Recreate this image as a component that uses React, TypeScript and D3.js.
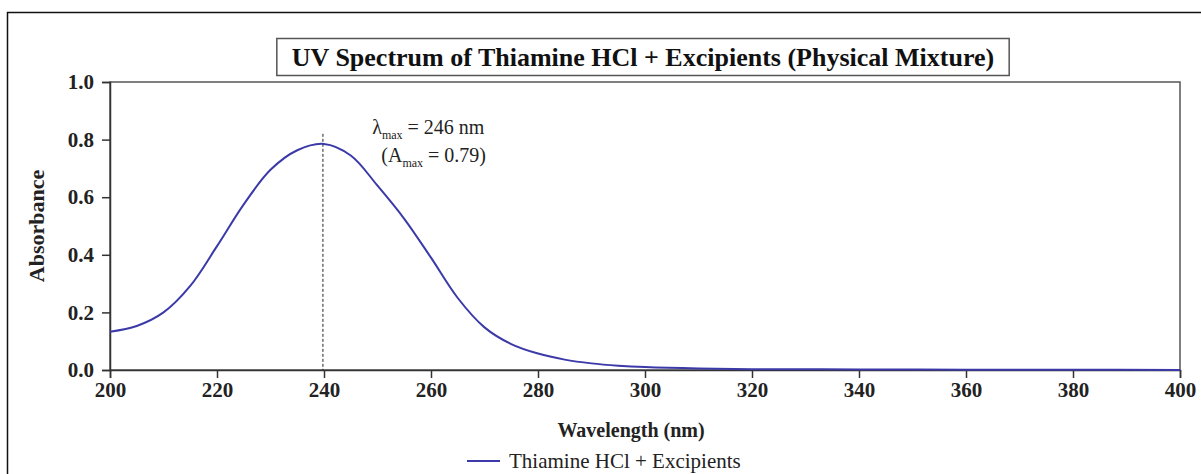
import React, { useEffect, useRef } from 'react';
import * as d3 from 'd3';

// UV spectrum readings (nm / absorbance)
const wavelengths = [200, 205, 210, 215, 220, 225, 230, 235, 240, 245, 250, 255, 260, 265, 270, 275, 280, 285, 290, 295, 300, 310, 320, 340, 360, 380, 400];
const absorbance = [0.133, 0.153, 0.2, 0.292, 0.43, 0.575, 0.695, 0.763, 0.785, 0.745, 0.64, 0.525, 0.39, 0.25, 0.148, 0.09, 0.057, 0.036, 0.023, 0.015, 0.01, 0.005, 0.003, 0.002, 0.001, 0.001, 0.0];
const xTicks = [200, 220, 240, 260, 280, 300, 320, 340, 360, 380, 400];
const yTicks = [0, 0.2, 0.4, 0.6, 0.8, 1.0];
const peakWavelength = 239.8;
const peakAbsorbance = 0.82;

const titleText = 'UV Spectrum of Thiamine HCl + Excipients (Physical Mixture)';
const seriesName = 'Thiamine HCl + Excipients';

const App = () => {
  const svgRef = useRef<SVGSVGElement>(null);

  useEffect(() => {
    const W = 1201;
    const H = 474;
    const margin = { top: 82, right: 21, bottom: 104, left: 110 };
    const width = W - margin.left - margin.right;
    const height = H - margin.top - margin.bottom;
    const font = '"Liberation Serif", "Times New Roman", serif';
    const lineColor = '#3b3aa8';

    const root = d3.select(svgRef.current);
    root.selectAll('*').remove();
    root.attr('width', W).attr('height', H).style('font-family', font);

    root.append('rect').attr('width', W).attr('height', H).attr('fill', 'white');

    // outer frame (runs off the right and bottom edge)
    root.append('rect')
      .attr('x', 7.5).attr('y', 12.5)
      .attr('width', W + 20).attr('height', H + 20)
      .attr('fill', 'none').attr('stroke', '#111').attr('stroke-width', 1.5);

    const svg = root.append('g').attr('transform', `translate(${margin.left},${margin.top})`);

    const x = d3.scaleLinear().domain([200, 400]).range([0, width]);
    const y = d3.scaleLinear().domain([0, 1]).range([height, 0]);

    // plot box
    svg.append('rect')
      .attr('width', width).attr('height', height)
      .attr('fill', 'none').attr('stroke', '#555').attr('stroke-width', 1.5);

    const xAxis = svg.append('g')
      .attr('transform', `translate(0,${height})`)
      .call(d3.axisBottom(x).tickValues(xTicks).tickFormat(d3.format('d')).tickSize(8).tickPadding(4));
    const yAxis = svg.append('g')
      .call(d3.axisLeft(y).tickValues(yTicks).tickFormat(d3.format('.1f')).tickSize(8).tickPadding(8));

    [xAxis, yAxis].forEach(a => {
      a.select('.domain').attr('stroke', '#333').attr('stroke-width', 1.5);
      a.selectAll('.tick line').attr('stroke', '#333').attr('stroke-width', 1.5);
      a.selectAll('.tick text')
        .attr('fill', '#222')
        .style('font-family', font)
        .style('font-size', '21px')
        .style('font-weight', 'bold');
    });

    // dashed marker at the peak
    svg.append('line')
      .attr('x1', x(peakWavelength)).attr('x2', x(peakWavelength))
      .attr('y1', y(peakAbsorbance)).attr('y2', height)
      .attr('stroke', '#222').attr('stroke-width', 1)
      .attr('stroke-dasharray', '3,2');

    const data = wavelengths.map((w, i) => ({ w, a: absorbance[i] }));
    const line = d3.line<{ w: number; a: number }>()
      .x(d => x(d.w))
      .y(d => y(d.a))
      .curve(d3.curveCatmullRom.alpha(0.5));

    svg.append('path')
      .datum(data)
      .attr('fill', 'none')
      .attr('stroke', lineColor)
      .attr('stroke-width', 2)
      .attr('d', line);

    // annotation
    const ann = svg.append('text')
      .attr('x', x(259.5)).attr('y', 52)
      .attr('text-anchor', 'middle')
      .attr('fill', '#222')
      .style('font-size', '20px');
    ann.append('tspan').text('λ');
    ann.append('tspan').attr('dy', 5).style('font-size', '12px').text('max');
    ann.append('tspan').attr('dy', -5).text(' = 246 nm');

    const ann2 = svg.append('text')
      .attr('x', x(260.5)).attr('y', 80)
      .attr('text-anchor', 'middle')
      .attr('fill', '#222')
      .style('font-size', '20px');
    ann2.append('tspan').text('(A');
    ann2.append('tspan').attr('dy', 5).style('font-size', '12px').text('max');
    ann2.append('tspan').attr('dy', -5).text(' = 0.79)');

    // axis titles
    svg.append('text')
      .attr('x', x(297.4)).attr('y', height + 67)
      .attr('text-anchor', 'middle')
      .attr('fill', '#222')
      .style('font-size', '20px').style('font-weight', 'bold')
      .text('Wavelength (nm)');

    svg.append('text')
      .attr('transform', 'rotate(-90)')
      .attr('x', -height / 2).attr('y', -66)
      .attr('text-anchor', 'middle')
      .attr('fill', '#222')
      .style('font-size', '22px').style('font-weight', 'bold')
      .text('Absorbance');

    // title in a box
    const titleBox = root.append('rect');
    const title = root.append('text')
      .attr('x', 643).attr('y', 66)
      .attr('text-anchor', 'middle')
      .attr('fill', '#111')
      .style('font-size', '26px').style('font-weight', 'bold')
      .text(titleText);
    const tb = (title.node() as SVGTextElement).getBBox();
    titleBox
      .attr('x', tb.x - 15).attr('y', 38.5)
      .attr('width', tb.width + 30).attr('height', 37)
      .attr('fill', 'white').attr('stroke', '#555').attr('stroke-width', 1.5);

    // legend
    const lg = root.append('g').attr('transform', 'translate(467,461)');
    lg.append('line').attr('x1', 0).attr('x2', 33).attr('stroke', lineColor).attr('stroke-width', 2);
    lg.append('text')
      .attr('x', 42).attr('dy', '0.32em')
      .attr('fill', '#222')
      .style('font-size', '21px')
      .text(seriesName);
  }, []);

  return <svg ref={svgRef} style={{ display: 'block', position: 'absolute', left: 0, top: 0 }} />;
};

export default App;
